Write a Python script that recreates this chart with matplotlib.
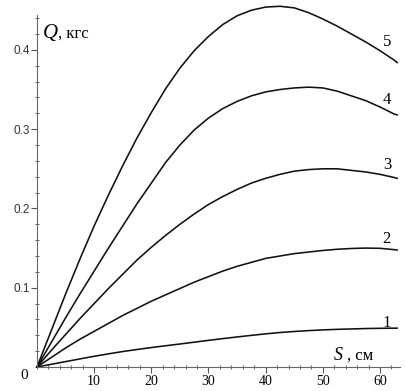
import matplotlib
matplotlib.use("Agg")
import matplotlib.pyplot as plt
from matplotlib.ticker import MultipleLocator, FixedLocator

# S, cm
s = [0, 2.5, 5, 7.5, 10, 12.5, 15, 17.5, 20, 22.5, 25, 27.5, 30, 32.5, 35,
     37.5, 40, 42.5, 45, 47.5, 50, 52.5, 55, 57.5, 60, 62.5, 63]
# Q, kgf
q1 = [0, 0.0034, 0.0068, 0.0102, 0.0135, 0.0166, 0.0195, 0.0221, 0.0245, 0.0268, 0.029, 0.0313, 0.0336, 0.0358,
      0.0379, 0.0399, 0.0418, 0.0435, 0.0448, 0.0459, 0.0468, 0.0475, 0.048, 0.0485, 0.0488, 0.049, 0.049]
q2 = [0, 0.012, 0.024, 0.035, 0.045, 0.055, 0.065, 0.074, 0.083, 0.091, 0.099, 0.107, 0.114, 0.121,
      0.127, 0.132, 0.137, 0.140, 0.143, 0.145, 0.147, 0.1485, 0.1495, 0.150, 0.1497, 0.148, 0.1475]
q3 = [0, 0.021, 0.041, 0.061, 0.080, 0.099, 0.117, 0.135, 0.151, 0.166, 0.180, 0.193, 0.205, 0.215,
      0.224, 0.232, 0.238, 0.243, 0.247, 0.249, 0.250, 0.250, 0.248, 0.246, 0.243, 0.239, 0.238]
q4 = [0, 0.031, 0.062, 0.092, 0.121, 0.150, 0.178, 0.206, 0.232, 0.258, 0.280, 0.299, 0.314, 0.326,
      0.335, 0.342, 0.347, 0.350, 0.352, 0.353, 0.352, 0.348, 0.342, 0.336, 0.328, 0.319, 0.318]
q5 = [0, 0.046, 0.092, 0.136, 0.178, 0.217, 0.254, 0.289, 0.321, 0.351, 0.377, 0.399, 0.417, 0.432,
      0.443, 0.450, 0.454, 0.455, 0.453, 0.447, 0.439, 0.430, 0.420, 0.410, 0.399, 0.387, 0.384]
curves = [q1, q2, q3, q4, q5]
labels = ["1", "2", "3", "4", "5"]
label_y = [0.0555, 0.162, 0.255, 0.337, 0.410]

fig = plt.figure(figsize=(4.05, 3.91), dpi=100)
ax = fig.add_axes([37/405, 24/391, 363/405, 352/391])

for q in curves:
    ax.plot(s, q, color="#111111", lw=1.15, clip_on=False)
for lab, ly in zip(labels, label_y):
    ax.text(61.2, ly, lab, fontsize=12, family="Liberation Serif", ha="center", va="center")

ax.set_xlim(0, 63.5)
ax.set_ylim(0, 0.444)
for side in ["top", "right"]:
    ax.spines[side].set_visible(False)
for side in ["left", "bottom"]:
    ax.spines[side].set_color("#666666")

ax.xaxis.set_major_locator(FixedLocator([10, 20, 30, 40, 50, 60]))
ax.xaxis.set_minor_locator(MultipleLocator(2))
ax.yaxis.set_major_locator(FixedLocator([0.1, 0.2, 0.3, 0.4]))
ax.yaxis.set_minor_locator(MultipleLocator(0.02))
ax.tick_params(which="major", direction="out", length=4, color="#555555", width=0.8)
ax.tick_params(which="minor", direction="inout", length=3, color="#666666", width=0.7)
ax.tick_params(axis="x", which="major", pad=2)
ax.tick_params(axis="y", which="major", pad=1)
for t in ax.get_xticklabels():
    t.set_family("Liberation Serif")
    t.set_fontsize(10)
for t in ax.get_yticklabels():
    t.set_family("Liberation Sans")
    t.set_fontsize(8.5)
    t.set_color("#333333")

ax.annotate("0", (0, 0), xytext=(-9, -6), textcoords="offset points",
            fontsize=11, family="Liberation Serif", ha="center", va="center")

ax.text(1.0, 0.421, "Q", fontsize=15, family="Liberation Serif", style="italic", va="center")
ax.text(3.6, 0.421, ", кгс", fontsize=12, family="Liberation Serif", va="center")
ax.text(52.0, 0.0139, "S", fontsize=13, family="Liberation Serif", style="italic", va="center")
ax.text(54.3, 0.0139, ", см", fontsize=12, family="Liberation Serif", va="center")

fig.savefig("out.png", dpi=100)
